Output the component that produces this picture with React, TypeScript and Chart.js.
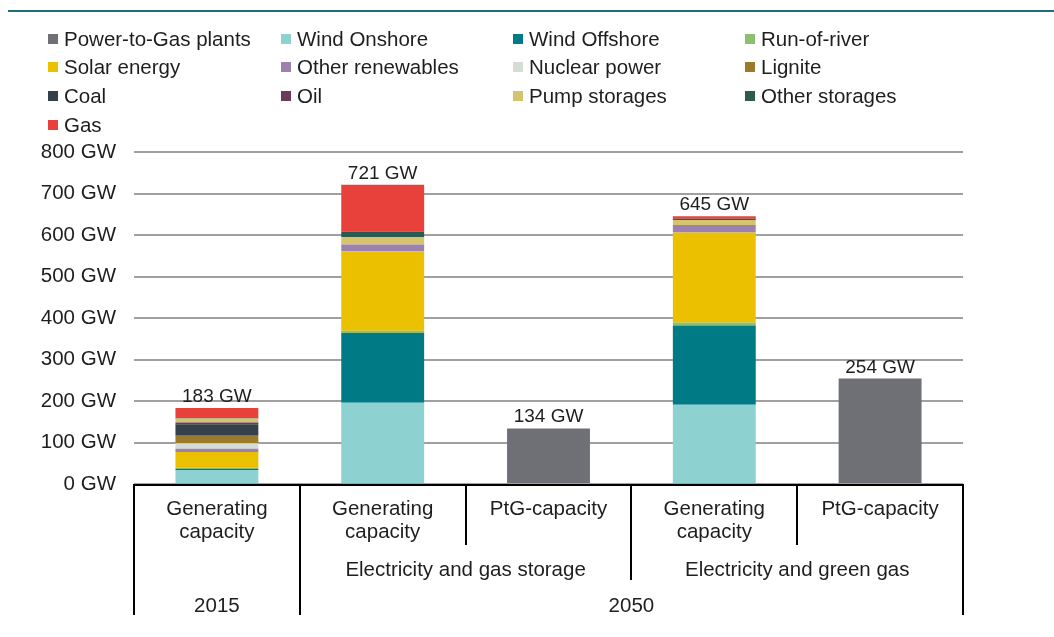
import React, { useEffect, useRef } from "react";
import { Chart, registerables } from "chart.js";

Chart.register(...registerables);

// ---- Data ----
const categoryLabels: string[][] = [
  ["Generating", "capacity"],
  ["Generating", "capacity"],
  ["PtG-capacity"],
  ["Generating", "capacity"],
  ["PtG-capacity"],
];
const scenarioGroups = [
  { label: "Electricity and gas storage", from: 1, to: 2 },
  { label: "Electricity and green gas", from: 3, to: 4 },
];
const yearGroups = [
  { label: "2015", from: 0, to: 0 },
  { label: "2050", from: 1, to: 4 },
];

const seriesNames = [
  "Power-to-Gas plants",
  "Wind Onshore",
  "Wind Offshore",
  "Run-of-river",
  "Solar energy",
  "Other renewables",
  "Nuclear power",
  "Lignite",
  "Coal",
  "Oil",
  "Pump storages",
  "Other storages",
  "Gas",
];
const seriesColors = [
  "#6f7075",
  "#8dd1d1",
  "#007a85",
  "#8cc06e",
  "#ebc000",
  "#9b80b0",
  "#d3ddd6",
  "#9a7b2b",
  "#36404a",
  "#6b3a5c",
  "#d5c46d",
  "#2c5a4e",
  "#e8403a",
];

const powerToGas = [0, 0, 134, 0, 254];
const windOnshore = [34, 196, 0, 191, 0];
const windOffshore = [3, 168, 0, 191, 0];
const runOfRiver = [2, 5, 0, 7, 0];
const solarEnergy = [38, 192, 0, 217, 0];
const otherRenewables = [8, 16, 0, 18, 0];
const nuclearPower = [13, 0, 0, 0, 0];
const lignite = [18, 0, 0, 0, 0];
const coal = [28, 0, 0, 0, 0];
const oil = [4, 0, 0, 0, 0];
const pumpStorages = [10, 18, 0, 12, 0];
const otherStorages = [1, 13, 0, 3, 0];
const gas = [24, 113, 0, 6, 0];

const seriesValues = [
  powerToGas,
  windOnshore,
  windOffshore,
  runOfRiver,
  solarEnergy,
  otherRenewables,
  nuclearPower,
  lignite,
  coal,
  oil,
  pumpStorages,
  otherStorages,
  gas,
];

const yTicks = [0, 100, 200, 300, 400, 500, 600, 700, 800];
const unit = "GW";

const FONT = '"Liberation Sans", Arial, Helvetica, sans-serif';
const TEXT = "#1e1e1e";

const decorPlugin = {
  id: "decor",
  afterDraw(chart: any) {
    const ctx = chart.ctx as CanvasRenderingContext2D;
    const area = chart.chartArea;
    const x = chart.scales.x;
    const y = chart.scales.y;
    ctx.save();

    // top rule
    ctx.strokeStyle = "#1f6f7a";
    ctx.lineWidth = 2;
    ctx.beginPath();
    ctx.moveTo(8, 11);
    ctx.lineTo(chart.width, 11);
    ctx.stroke();

    // legend grid
    const colX = [48, 281, 513, 745];
    const rowY = [39, 67, 96, 125];
    ctx.font = `20.5px ${FONT}`;
    ctx.textBaseline = "middle";
    ctx.textAlign = "left";
    seriesNames.forEach((name, i) => {
      const cx = colX[i % 4];
      const cy = rowY[Math.floor(i / 4)];
      ctx.fillStyle = seriesColors[i];
      ctx.fillRect(cx, cy - 5, 10, 10);
      ctx.fillStyle = TEXT;
      ctx.fillText(name, cx + 16, cy + 1);
    });

    // totals above bars
    const n = categoryLabels.length;
    ctx.font = `19px ${FONT}`;
    ctx.textAlign = "center";
    ctx.textBaseline = "alphabetic";
    for (let i = 0; i < n; i++) {
      let total = 0;
      seriesValues.forEach((s) => (total += s[i]));
      const px = x.getPixelForValue(i);
      const py = y.getPixelForValue(total);
      ctx.fillStyle = TEXT;
      ctx.fillText(`${total} ${unit}`, px, py - 6);
    }

    // category axis
    const bottom = area.bottom;
    const half = (x.getPixelForValue(1) - x.getPixelForValue(0)) / 2;
    const edge = (i: number) => x.getPixelForValue(i) - half;
    ctx.strokeStyle = "#000";
    ctx.lineWidth = 2;
    ctx.beginPath();
    ctx.moveTo(area.left, bottom + 1);
    ctx.lineTo(area.right, bottom + 1);
    ctx.stroke();

    const lineEnds = [615, 615, 545, 580, 545, 615];
    for (let i = 0; i <= n; i++) {
      const ex = Math.round(edge(i));
      ctx.beginPath();
      ctx.moveTo(ex, bottom);
      ctx.lineTo(ex, lineEnds[i]);
      ctx.stroke();
    }

    ctx.font = `20.5px ${FONT}`;
    ctx.fillStyle = TEXT;
    ctx.textBaseline = "middle";
    ctx.textAlign = "center";
    categoryLabels.forEach((lines, i) => {
      const px = x.getPixelForValue(i);
      lines.forEach((ln, j) => ctx.fillText(ln, px, 509 + j * 23));
    });
    scenarioGroups.forEach((g) => {
      const cx = (edge(g.from) + edge(g.to + 1)) / 2;
      ctx.fillText(g.label, cx, 570);
    });
    yearGroups.forEach((g) => {
      const cx = (edge(g.from) + edge(g.to + 1)) / 2;
      ctx.fillText(g.label, cx, 606);
    });

    ctx.restore();
  },
};

export default function App() {
  const ref = useRef<HTMLCanvasElement | null>(null);

  useEffect(() => {
    if (!ref.current) return;
    const chart = new Chart(ref.current, {
      type: "bar",
      data: {
        labels: categoryLabels,
        datasets: seriesNames.map((name, i) => ({
          label: name,
          data: seriesValues[i],
          backgroundColor: seriesColors[i],
          borderWidth: 0,
          barPercentage: 0.5,
          categoryPercentage: 1,
        })),
      },
      options: {
        animation: false,
        responsive: true,
        maintainAspectRatio: false,
        layout: { padding: { top: 152, bottom: 153, left: 0, right: 91 } },
        plugins: {
          legend: { display: false },
          tooltip: { enabled: false },
        },
        scales: {
          x: { stacked: true, display: false },
          y: {
            stacked: true,
            min: yTicks[0],
            max: yTicks[yTicks.length - 1],
            afterFit(scale: any) {
              scale.width = 134;
            },
            afterBuildTicks(scale: any) {
              scale.ticks = yTicks.map((v) => ({ value: v }));
            },
            ticks: {
              padding: 18,
              color: TEXT,
              font: { family: FONT, size: 20.5 },
              callback: (v: any) => `${v} ${unit}`,
            },
            grid: { color: "#a0a0a0", lineWidth: 2, drawTicks: false },
            border: { display: false },
          },
        },
      },
      plugins: [decorPlugin],
    });
    return () => chart.destroy();
  }, []);

  return (
    <div style={{ position: "fixed", left: 0, top: 0, width: 1054, height: 637, background: "#fff" }}>
      <canvas ref={ref} />
    </div>
  );
}
